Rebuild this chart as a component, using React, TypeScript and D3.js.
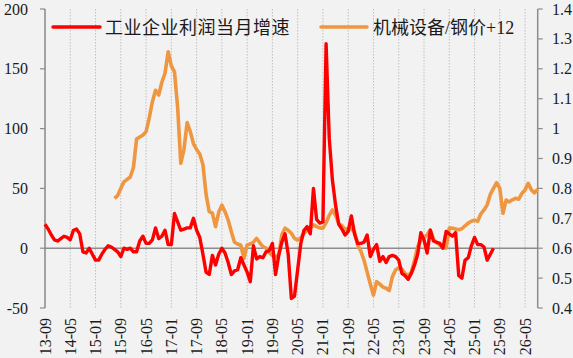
import React from "react";
import * as d3 from "d3";

// Month index 0 = 2013-09
const tickLabels = ["13-09","14-05","15-01","15-09","16-05","17-01","17-09","18-05","19-01","19-09","20-05","21-01","21-09","22-05","23-01","23-09","24-05","25-01","25-09","26-05"];
const leftTicks = [-50, 0, 50, 100, 150, 200];
const rightTicks = [0.4, 0.5, 0.6, 0.7, 0.8, 0.9, 1, 1.1, 1.2, 1.3, 1.4];

// 工业企业利润当月增速 (left axis), from 2013-09
const profitStart = 0;
const profitGrowth = [20,16,11,7,6,8,10,9,7,15,16,12,-3,-4,0,-5,-10,-10,-5,-1,2,1,-1,-3,-7,0,-1,0,-3,-3,6,10,4,4,7,17,8,10,15,3,3,29,22,15,16,17,17,25,15,9,-5,-20,-22,-6,-14,-5,0,-4,-12,-22,-19,-18,-8,-14,-20,-28,2,-9,-7,-8,-3,-2,4,-22,-6,5,12,-5,-42,-40,-18,4,15,18,12,50,24,21,22,171,92,57,36,20,16,11,14,27,12,4,4,5,11,-7,-1,3,-11,-7,-12,-7,-6,-7,-10,-21,-23,-26,-21,-14,-5,13,7,-4,15,6,5,4,0,14,12,10,13,-23,-25,-10,-8,2,9,3,3,1,-10,-5,0];

// 机械设备/钢价+12 (right axis), from 2015-07
const ratioStart = 22;
const machineSteelRatio = [
  0.767,0.776,0.80,0.822,0.83,0.838,0.87,0.965,0.972,0.978,0.99,1.035,1.09,1.128,1.112,1.155,1.185,
  1.257,1.21,1.19,1.07,0.884,0.93,1.02,0.99,0.95,0.93,0.915,0.88,0.78,0.722,0.717,0.672,0.72,
  0.744,0.722,0.694,0.655,0.62,0.614,0.61,0.566,0.611,0.614,0.62,0.633,0.618,0.605,0.6,0.585,0.575,
  0.572,0.577,0.645,0.667,0.66,0.65,0.633,0.627,0.635,0.65,0.66,0.667,0.678,0.672,0.668,0.667,0.685,
  0.71,0.728,0.71,0.683,0.675,0.663,0.665,0.664,0.655,0.61,0.59,0.56,0.52,0.48,0.443,0.488,0.48,
  0.47,0.466,0.458,0.505,0.527,0.535,0.53,0.515,0.508,0.52,0.56,0.605,0.627,0.635,0.645,0.661,0.63,
  0.618,0.611,0.602,0.6,0.667,0.667,0.664,0.662,0.665,0.675,0.684,0.69,0.694,0.69,0.715,0.728,0.745,
  0.78,0.80,0.819,0.80,0.717,0.761,0.755,0.762,0.767,0.764,0.783,0.795,0.817,0.795,0.785,0.797
];

const W = 573, H = 358;
const FONT = "'Liberation Serif', 'Times New Roman', 'Noto Sans CJK SC', serif";

export default function App() {
  const x = d3.scaleLinear().domain([0, 156]).range([45, 537.7]);
  const yL = d3.scaleLinear().domain([-50, 200]).range([308, 9]);
  const yR = d3.scaleLinear().domain([0.4, 1.4]).range([308, 9]);

  const redLine = d3.line<number>()
    .x((_, i) => x(profitStart + i))
    .y((d) => yL(d));
  const orangeLine = d3.line<number>()
    .x((_, i) => x(ratioStart + i))
    .y((d) => yR(d));

  const axisColor = "#8c8c8c";
  const textColor = "#1a1a1a";

  return (
    <svg width={W} height={H} style={{ position: "absolute", left: 0, top: 0, background: "#f2f2f2" }}
      fontFamily={FONT}>
      <rect x={0} y={0} width={W} height={H} fill="#f2f2f2" />
      {/* vertical dotted gridlines */}
      {tickLabels.map((t, i) => (
        <line key={"g" + t} x1={x(i * 8)} x2={x(i * 8)} y1={yL(200)} y2={yL(-50)}
          stroke="#c0c0c0" strokeWidth={1} strokeDasharray="1.5,1.5" />
      ))}
      {/* zero line */}
      <line x1={x(0)} x2={x(156)} y1={yL(0)} y2={yL(0)} stroke={axisColor} strokeWidth={1.5} />
      {/* left axis */}
      <line x1={x(0)} x2={x(0)} y1={yL(200)} y2={yL(-50)} stroke={axisColor} strokeWidth={1.5} />
      {leftTicks.map((v) => (
        <g key={"l" + v}>
          <line x1={x(0) - 5} x2={x(0)} y1={yL(v)} y2={yL(v)} stroke={axisColor} strokeWidth={1.2} />
          <text x={28} y={yL(v)} textAnchor="end" dominantBaseline="central" fontSize={16} fill={textColor}>{v}</text>
        </g>
      ))}
      {/* right axis */}
      <line x1={x(156)} x2={x(156)} y1={yR(1.4)} y2={yR(0.4)} stroke={axisColor} strokeWidth={1.5} />
      {rightTicks.map((v) => (
        <g key={"r" + v}>
          <line x1={x(156)} x2={x(156) + 5} y1={yR(v)} y2={yR(v)} stroke={axisColor} strokeWidth={1.2} />
          <text x={552} y={yR(v)} textAnchor="start" dominantBaseline="central" fontSize={16} fill={textColor}>{String(v)}</text>
        </g>
      ))}
      {/* x labels */}
      {tickLabels.map((t, i) => (
        <text key={"x" + t} transform={`translate(${x(i * 8)},318) rotate(-90)`} textAnchor="end"
          dominantBaseline="central" fontSize={16} fill={textColor}>{t}</text>
      ))}
      {/* series */}
      <path d={orangeLine(machineSteelRatio) || ""} fill="none" stroke="#EE9640" strokeWidth={3.6} strokeLinejoin="round" />
      <path d={redLine(profitGrowth) || ""} fill="none" stroke="#FF0000" strokeWidth={3.4} strokeLinejoin="round" />
      {/* legend */}
      <line x1={53} x2={100} y1={27} y2={27} stroke="#FF0000" strokeWidth={3.5} strokeLinecap="round" />
      <text x={105} y={28} dominantBaseline="central" fontSize={18} letterSpacing={0.5} fill={textColor}>工业企业利润当月增速</text>
      <line x1={321} x2={367} y1={27} y2={27} stroke="#EE9640" strokeWidth={3.5} strokeLinecap="round" />
      <text x={373} y={28} dominantBaseline="central" fontSize={18} fill={textColor}>机械设备/钢价+12</text>
    </svg>
  );
}
